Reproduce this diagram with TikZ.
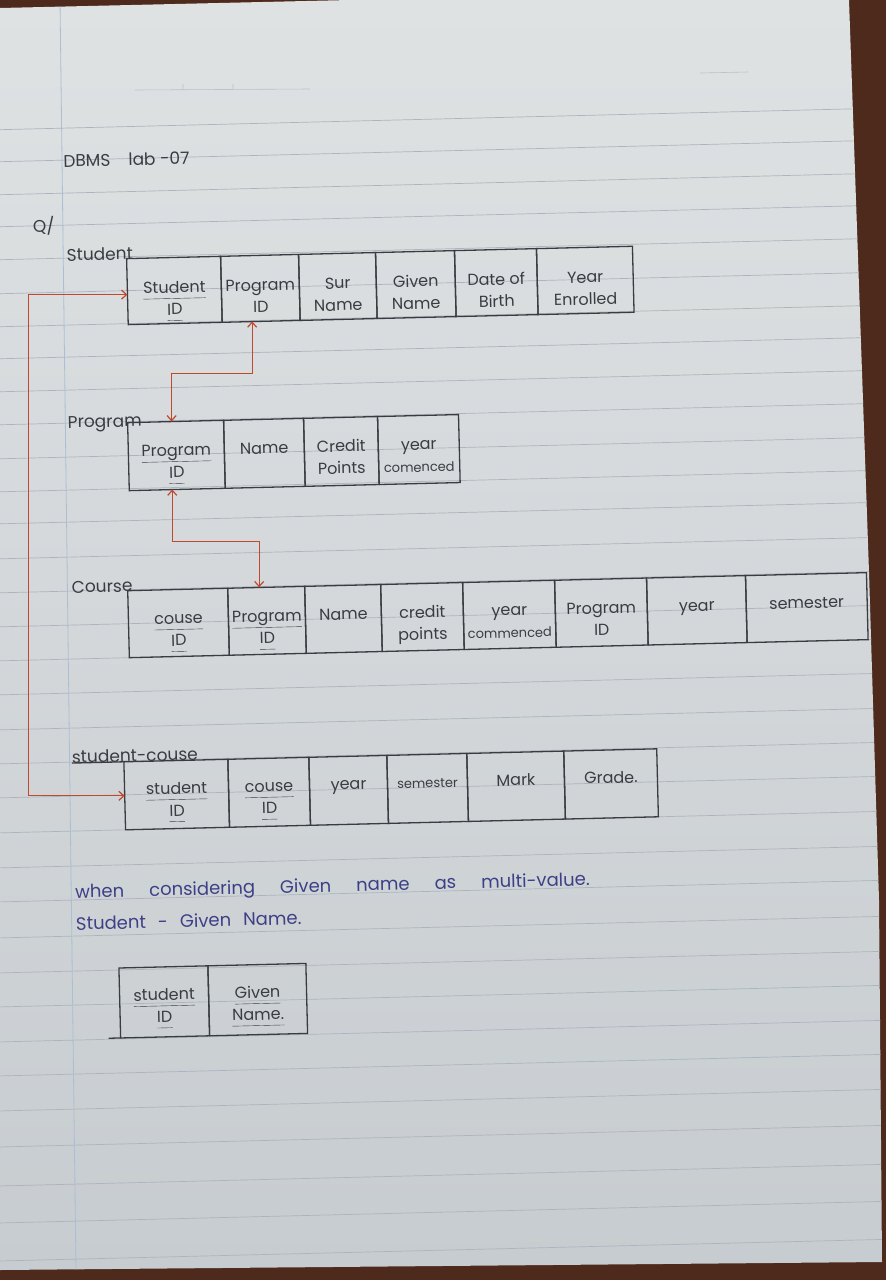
\documentclass[tikz,border=0pt]{standalone}
\usepackage{fontspec}
\setmainfont{Poppins}
\usetikzlibrary{arrows.meta}
\definecolor{wood}{RGB}{78,42,28}
\definecolor{papertop}{RGB}{223,226,227}
\definecolor{paperbot}{RGB}{199,204,208}
\definecolor{rulecol}{RGB}{172,180,190}
\definecolor{margincol}{RGB}{170,190,212}
\definecolor{faintcol}{RGB}{188,193,198}
\definecolor{pencil}{RGB}{58,60,66}
\definecolor{blueink}{RGB}{62,64,135}
\definecolor{redink}{RGB}{192,72,45}
\newcommand{\cl}[2]{\strut#1\\\strut#2}
\newcommand{\pk}[2]{\strut\underline{#1\vphantom{p}}\\\strut\underline{#2\vphantom{p}}}
\newcommand{\sm}[1]{{\fontsize{13}{22}\selectfont#1}}
\begin{document}
\begin{tikzpicture}[x=1pt,y=-1pt,
  cellbox/.style={draw=pencil, line width=1.3pt, inner sep=0pt, outer sep=0pt},
  celltext/.style={align=center, text=pencil, inner sep=0pt, font=\fontsize{16}{22}\selectfont},
  tname/.style={anchor=base west, text=pencil, inner sep=0pt, font=\fontsize{17}{22}\selectfont},
  note/.style={anchor=base west, text=blueink, inner sep=0pt, font=\fontsize{18}{22}\selectfont},
  fk/.style={draw=redink, line width=1.2pt, {Straight Barb[length=5pt,width=9pt]}-{Straight Barb[length=5pt,width=9pt]}},
  ruling/.style={draw=rulecol, line width=0.7pt}]
\useasboundingbox (0,0) rectangle (886,1280);
\fill[wood] (0,0) rectangle (886,1280);
\shade[top color=papertop, bottom color=paperbot] (0,8) -- (350,0) -- (849,0) -- (869,572) -- (879,900) -- (882,1262) -- (0,1270) -- cycle;
\begin{scope}
\clip (0,8) -- (350,0) -- (849,0) -- (869,572) -- (879,900) -- (882,1262) -- (0,1270) -- cycle;
\begin{scope}[rotate around={1.4:(443,640)}]
\foreach \ly in {119,151,184,216,249,283,316,348,381,414,448,481,513,548,582,616,650,684,719,753,787,822,857,891,927,962,996,1031,1065,1100,1136,1175,1212,1250}
  \draw[ruling] (-40,\ly) -- (930,\ly);
\end{scope}
\draw[margincol, line width=0.8pt] (60,0) -- (76,1270);
\draw[faintcol, line width=0.6pt] (135,90) -- (310,89) (183,84) -- (183,90) (233,84) -- (233,90);
\draw[faintcol, line width=0.6pt] (700,73) -- (748,72);
\begin{scope}[rotate around={1.4:(443,640)}, transform shape]
\node[tname] (title) at (75,158) {DBMS\hspace{18pt}lab -07};
\node[tname] (qmark) at (43,223) {Q/};
% Student
\def\TOP{251}\def\H{66}
\node[tname] (stlab) at (76,\TOP+1) {Student};
\foreach \xa/\xb/\txt [count=\i, evaluate=\xa as \xm using (\xa+\xb)/2, evaluate=\xa as \w using \xb-\xa] in
  {136/230/{\pk{Student}{ID}}, 230/308/{\cl{Program}{ID}}, 308/385/{\cl{Sur}{Name}},
   385/464/{\cl{Given}{Name}}, 464/546/{\cl{Date of}{Birth}}, 546/642/{\cl{Year}{Enrolled}}}{
  \node[cellbox, minimum width=\w pt, minimum height=\H pt, anchor=north west] (st\i) at (\xa,\TOP) {};
  \node[celltext] (stt\i) at (\xm,\TOP+42) {\txt};
}
% Program
\def\TOP{415}\def\H{68}
\node[tname] (pglab) at (73,\TOP+4) {Program};
\foreach \xa/\xb/\txt [count=\i, evaluate=\xa as \xm using (\xa+\xb)/2, evaluate=\xa as \w using \xb-\xa] in
  {133/229/{\pk{Program}{ID}}, 229/309/{\cl{Name}{}}, 309/383/{\cl{Credit}{Points}},
   383/464/{\cl{year}{\sm{comenced}}}}{
  \node[cellbox, minimum width=\w pt, minimum height=\H pt, anchor=north west] (pg\i) at (\xa,\TOP) {};
  \node[celltext] (pgt\i) at (\xm,\TOP+41) {\txt};
}
% Course
\def\TOP{583}\def\H{67}
\node[tname] (cslab) at (73,\TOP+1) {Course};
\foreach \xa/\xb/\txt [count=\i, evaluate=\xa as \xm using (\xa+\xb)/2, evaluate=\xa as \w using \xb-\xa] in
  {129/229/{\pk{couse}{ID}}, 229/306/{\pk{Program}{ID}}, 306/382/{\cl{Name}{}},
   382/464/{\cl{credit}{points}}, 464/556/{\cl{year}{\sm{commenced}}}, 556/648/{\cl{Program}{ID}},
   648/747/{\cl{year}{}}, 747/868/{\cl{semester}{}}}{
  \node[cellbox, minimum width=\w pt, minimum height=\H pt, anchor=north west] (cs\i) at (\xa,\TOP) {};
  \node[celltext] (cst\i) at (\xm,\TOP+41) {\txt};
}
% Student-couse
\def\TOP{754}\def\H{68}
\node[tname] (sclab) at (69,\TOP) {student-couse};
\foreach \xa/\xb/\txt [count=\i, evaluate=\xa as \xm using (\xa+\xb)/2, evaluate=\xa as \w using \xb-\xa] in
  {121/225/{\pk{student}{ID}}, 225/306/{\pk{couse}{ID}}, 306/384/{\cl{year}{}},
   384/464/{\cl{\sm{semester}}{}}, 464/561/{\cl{Mark}{}}, 561/654/{\cl{Grade.}{}}}{
  \node[cellbox, minimum width=\w pt, minimum height=\H pt, anchor=north west] (sc\i) at (\xa,\TOP) {};
  \node[celltext] (sct\i) at (\xm,\TOP+40) {\txt};
}
\draw[pencil, line width=1.3pt] (sclab.base west) -- (sc1.north west);
% multi-valued attribute
\node[note] (mvnote) at (69,889) {\spaceskip=25pt when considering Given name as multi-value.};
\node[note] (sgname) at (69,921) {\spaceskip=12pt Student - Given Name.};
\def\TOP{960}\def\H{70}
\foreach \xa/\xb/\txt [count=\i, evaluate=\xa as \xm using (\xa+\xb)/2, evaluate=\xa as \w using \xb-\xa] in
  {111/200/{\pk{student}{ID}}, 200/298/{\pk{Given}{Name.}}}{
  \node[cellbox, minimum width=\w pt, minimum height=\H pt, anchor=north west] (sg\i) at (\xa,\TOP) {};
  \node[celltext] (sgt\i) at (\xm,\TOP+40) {\txt};
}
\draw[pencil, line width=1.3pt] (sg1.south west) -- ++(-12,0);
\end{scope}
\end{scope}
% foreign keys
\draw[fk] ([yshift=-3pt]st1.west) -- ++(-99,0) |- (sc1.west);
\draw[fk] ([xshift=-9pt]st2.south) -- ++(0,52) -| ([xshift=-4pt]pg1.north);
\draw[fk] ([xshift=-5pt]pg1.south) -- ++(0,52) -| ([xshift=-7pt]cs2.north);
\end{tikzpicture}
\end{document}
